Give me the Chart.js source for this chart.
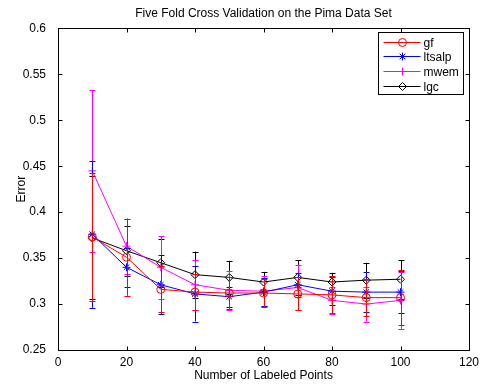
<!DOCTYPE html>
<html>
<head>
<meta charset="utf-8">
<script src="https://cdn.jsdelivr.net/npm/chart.js@4"></script>
<style>
  html, body { margin: 0; padding: 0; background: #fff; }
  #wrap { width: 481px; height: 385px; }
</style>
</head>
<body>
<div id="wrap"><canvas id="cv" width="481" height="385"></canvas></div>
<script>
const labeled = [10, 20, 30, 40, 50, 60, 70, 80, 90, 100];

const gf     = [0.373, 0.351, 0.316, 0.313, 0.312, 0.312, 0.311, 0.310, 0.307, 0.307];
const ltsalp = [0.376, 0.340, 0.321, 0.311, 0.308, 0.313, 0.321, 0.314, 0.313, 0.313];
const mwem   = [0.445, 0.363, 0.340, 0.321, 0.315, 0.314, 0.318, 0.304, 0.300, 0.304];
const lgc    = [0.372, 0.358, 0.345, 0.332, 0.329, 0.324, 0.329, 0.324, 0.326, 0.327];

// half-width of the error bars
const gfErr     = [0.070, 0.042, 0.025, 0.020, 0.017, 0.015, 0.018, 0.020, 0.020, 0.030];
const ltsalpErr = [0.080, 0.021, 0.032, 0.030, 0.011, 0.015, 0.013, 0.015, 0.022, 0.023];
const mwemErr   = [0.088, 0.030, 0.034, 0.027, 0.021, 0.016, 0.025, 0.015, 0.019, 0.031];
const lgcErr    = [0.067, 0.027, 0.026, 0.025, 0.018, 0.011, 0.019, 0.010, 0.019, 0.021];

const xTicks = [0, 20, 40, 60, 80, 100, 120];
const yTicks = [0.25, 0.3, 0.35, 0.4, 0.45, 0.5, 0.55, 0.6];

const FONT = "'Liberation Sans', Arial, sans-serif";

function series(label, values, errs, color, style) {
  return {
    label: label,
    data: labeled.map((x, i) => ({ x: x, y: values[i] })),
    errs: errs,
    borderColor: color,
    backgroundColor: 'rgba(0,0,0,0)',
    pointBorderColor: color,
    pointBackgroundColor: 'rgba(0,0,0,0)',
    pointStyle: style,
    pointRadius: 4,
    pointBorderWidth: 1,
    borderWidth: 1,
    tension: 0
  };
}

const errorBars = {
  id: 'errorBars',
  afterDatasetDraw(chart, args) {
    const ds = chart.data.datasets[args.index];
    const xs = chart.scales.x, ys = chart.scales.y;
    const ctx = chart.ctx;
    ctx.save();
    ctx.strokeStyle = ds.borderColor;
    ctx.lineWidth = 1;
    ds.data.forEach((p, i) => {
      const px = Math.round(xs.getPixelForValue(p.x)) + 0.5;
      const top = ys.getPixelForValue(p.y + ds.errs[i]);
      const bot = ys.getPixelForValue(p.y - ds.errs[i]);
      ctx.beginPath();
      ctx.moveTo(px, top); ctx.lineTo(px, bot);
      ctx.moveTo(px - 3, Math.round(top) + 0.5); ctx.lineTo(px + 3, Math.round(top) + 0.5);
      ctx.moveTo(px - 3, Math.round(bot) + 0.5); ctx.lineTo(px + 3, Math.round(bot) + 0.5);
      ctx.stroke();
    });
    ctx.restore();
  }
};

const frame = {
  id: 'frame',
  afterDraw(chart) {
    const a = chart.chartArea, ctx = chart.ctx;
    const xs = chart.scales.x, ys = chart.scales.y;
    ctx.save();
    ctx.strokeStyle = '#000';
    ctx.lineWidth = 1;
    const L = Math.round(a.left) + 0.5, R = Math.round(a.right) + 0.5;
    const T = Math.round(a.top) + 0.5, B = Math.round(a.bottom) + 0.5;
    ctx.strokeRect(L, T, R - L, B - T);
    ctx.beginPath();
    xTicks.forEach(v => {
      const px = Math.round(xs.getPixelForValue(v)) + 0.5;
      ctx.moveTo(px, B); ctx.lineTo(px, B - 4);
      ctx.moveTo(px, T); ctx.lineTo(px, T + 4);
    });
    yTicks.forEach(v => {
      const py = Math.round(ys.getPixelForValue(v)) + 0.5;
      ctx.moveTo(L, py); ctx.lineTo(L + 4, py);
      ctx.moveTo(R, py); ctx.lineTo(R - 4, py);
    });
    ctx.stroke();

    // legend box in the upper right
    const lx = 378.5, ly = 32.5, lw = 85, lh = 62;
    ctx.fillStyle = '#fff';
    ctx.fillRect(lx, ly, lw, lh);
    ctx.strokeRect(lx, ly, lw, lh);
    ctx.font = '12px ' + FONT;
    ctx.textBaseline = 'middle';
    chart.data.datasets.forEach((ds, i) => {
      const y = Math.round(ly + 9 + i * 14.7) + 0.5;
      ctx.strokeStyle = ds.borderColor;
      ctx.beginPath();
      ctx.moveTo(lx + 5, y); ctx.lineTo(lx + 42, y);
      ctx.stroke();
      ctx.fillStyle = 'rgba(0,0,0,0)';
      Chart.helpers.drawPoint(ctx, { pointStyle: ds.pointStyle, radius: 4, borderWidth: 1 }, lx + 24, y);
      ctx.fillStyle = '#000';
      ctx.fillText(ds.label, lx + 45, y + 1);
    });
    ctx.restore();
  }
};

new Chart(document.getElementById('cv'), {
  type: 'line',
  data: {
    datasets: [
      series('gf', gf, gfErr, '#ff0000', 'circle'),
      series('ltsalp', ltsalp, ltsalpErr, '#0000ff', 'star'),
      series('mwem', mwem, mwemErr, '#ff00ff', 'cross'),
      series('lgc', lgc, lgcErr, '#000000', 'rectRot')
    ]
  },
  options: {
    responsive: false,
    animation: false,
    layout: { padding: { top: 0, right: 12, bottom: 0, left: 0 } },
    plugins: {
      legend: { display: false },
      tooltip: { enabled: false },
      title: {
        display: true,
        fullSize: false,
        text: 'Five Fold Cross Validation on the Pima Data Set',
        color: '#000',
        font: { family: FONT, size: 12, weight: 'normal' },
        padding: { top: 6, bottom: 8 }
      }
    },
    scales: {
      x: {
        type: 'linear',
        min: 0, max: 120,
        afterBuildTicks: s => { s.ticks = xTicks.map(v => ({ value: v })); },
        afterFit: s => { s.height = 35; s.paddingLeft = 0; s.paddingRight = 0; },
        grid: { display: false, drawTicks: false },
        border: { display: false },
        ticks: { color: '#000', font: { family: FONT, size: 12 }, padding: 5, maxRotation: 0 },
        title: { display: true, text: 'Number of Labeled Points', color: '#000',
                 font: { family: FONT, size: 12 }, padding: { top: 0, bottom: 2 } }
      },
      y: {
        type: 'linear',
        min: 0.25, max: 0.6,
        afterBuildTicks: s => { s.ticks = yTicks.map(v => ({ value: v })); },
        afterFit: s => { s.width = 58; s.paddingTop = 0; s.paddingBottom = 0; },
        grid: { display: false },
        border: { display: false },
        ticks: { color: '#000', font: { family: FONT, size: 12 }, padding: 4,
                 callback: v => String(+v.toFixed(2)) },
        title: { display: true, text: 'Error', color: '#000',
                 font: { family: FONT, size: 12 }, padding: { top: 14, bottom: 0 } }
      }
    }
  },
  plugins: [errorBars, frame]
});
</script>
</body>
</html>
